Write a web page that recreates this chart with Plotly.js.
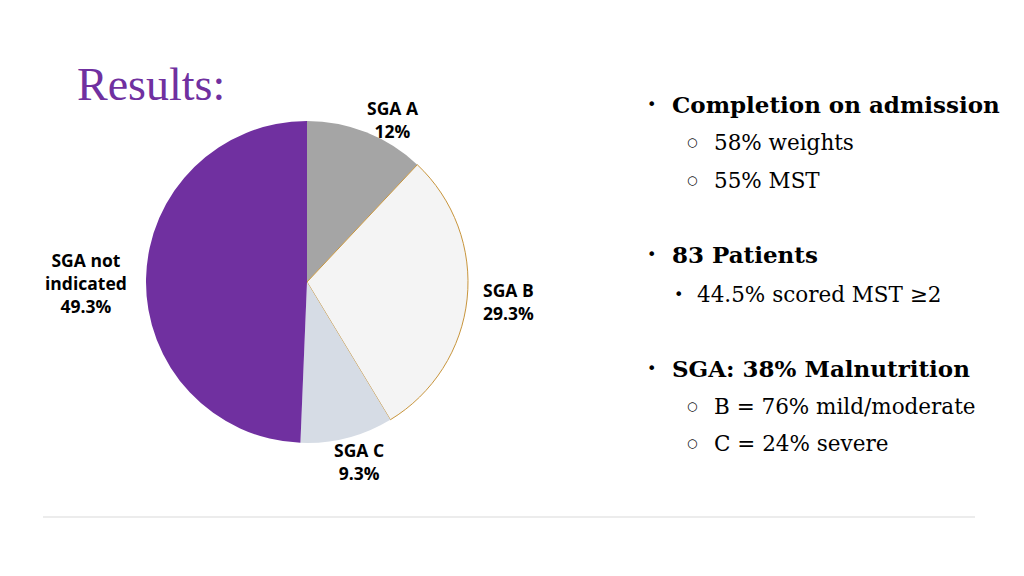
<!DOCTYPE html>
<html>
<head>
<meta charset="utf-8">
<script src="https://cdn.plot.ly/plotly-3.0.1.min.js"></script>
<style>html,body{margin:0;padding:0;background:#fff;}#chart{width:1024px;height:576px;}</style>
</head>
<body>
<div id="chart"></div>
<script>
// ---- Data ----
const categories = ["SGA A", "SGA B", "SGA C", "SGA not indicated"];
const labelLines = [["SGA A"], ["SGA B"], ["SGA C"], ["SGA not", "indicated"]];
const values = [12, 29.3, 9.3, 49.3];
const sliceColors = ["#a5a5a5", "#f4f4f4", "#d6dce5", "#7030a0"];
const titleText = "Results:";
const bulletLines = [
  {level: 1, bold: true,  text: "Completion on admission"},
  {level: 2, bold: false, text: "58% weights"},
  {level: 2, bold: false, text: "55% MST"},
  {level: 1, bold: true,  text: "83 Patients"},
  {level: 3, bold: false, text: "44.5% scored MST ≥2"},
  {level: 1, bold: true,  text: "SGA: 38% Malnutrition"},
  {level: 2, bold: false, text: "B = 76% mild/moderate"},
  {level: 2, bold: false, text: "C = 24% severe"}
];

// ---- Layout helpers ----
const W = 1024, H = 576;
const px = x => x / W;
const py = y => 1 - y / H;

const cx = 307, cy = 282, r = 161;

const trace = {
  type: "pie",
  labels: categories,
  values: values,
  sort: false,
  direction: "clockwise",
  rotation: 0,
  textinfo: "none",
  hoverinfo: "label+percent",
  marker: {
    colors: sliceColors,
    line: {color: ["rgba(0,0,0,0)", "#c8953c", "rgba(0,0,0,0)", "rgba(0,0,0,0)"], width: [0, 1, 0, 0]}
  },
  domain: {x: [px(cx - r), px(cx + r)], y: [py(cy + r), py(cy - r)]},
  showlegend: false
};

// Slice label anchors (pixel, block centre)
const labelPos = [
  {x: 393, y: 119, xanchor: "center"},
  {x: 482, y: 301, xanchor: "left"},
  {x: 359, y: 461, xanchor: "center"},
  {x: 86,  y: 283, xanchor: "center"}
];

const annotations = [];
categories.forEach((c, i) => {
  const p = labelPos[i];
  const lines = labelLines[i].concat([values[i] + "%"]);
  annotations.push({
    xref: "paper", yref: "paper",
    x: px(p.x), y: py(p.y),
    xanchor: p.xanchor, yanchor: "middle",
    showarrow: false, borderpad: 0,
    align: p.xanchor === "left" ? "left" : "center",
    text: "<b>" + lines.join("<br>") + "</b>",
    font: {family: "Open Sans", size: 17.5, color: "#000"}
  });
});

// Title
annotations.push({
  xref: "paper", yref: "paper", x: px(75), y: py(84),
  xanchor: "left", yanchor: "middle", showarrow: false,
  text: titleText,
  font: {family: "Liberation Serif", size: 46, color: "#7030a0"}
});

// Bullets
const lineY = [104, 142, 180, 255, 294, 368, 406, 443];
const bulletX = {1: 651, 2: 692, 3: 678};
const textX = {1: 670, 2: 712, 3: 695};
bulletLines.forEach((b, i) => {
  annotations.push({
    xref: "paper", yref: "paper", x: px(bulletX[b.level]), y: py(lineY[i]),
    xanchor: "center", yanchor: "middle", showarrow: false,
    text: b.level === 2 ? "○" : "•",
    font: {family: "DejaVu Sans", size: b.level === 2 ? 12 : 16, color: "#000"}
  });
  annotations.push({
    xref: "paper", yref: "paper", x: px(textX[b.level]), y: py(lineY[i]),
    xanchor: "left", yanchor: "middle", showarrow: false,
    text: b.bold ? "<b>" + b.text + "</b>" : b.text,
    font: {family: "DejaVu Serif", size: b.bold ? 23 : 21.5, color: "#000"}
  });
});

const layout = {
  width: W, height: H,
  margin: {l: 0, r: 0, t: 0, b: 0},
  paper_bgcolor: "#fff",
  plot_bgcolor: "#fff",
  showlegend: false,
  annotations: annotations,
  shapes: [{
    type: "line", xref: "paper", yref: "paper",
    x0: px(43), x1: px(975), y0: py(517), y1: py(517),
    line: {color: "#d9d9d9", width: 1}
  }]
};

Plotly.newPlot("chart", [trace], layout, {displayModeBar: false, staticPlot: true});
</script>
</body>
</html>
